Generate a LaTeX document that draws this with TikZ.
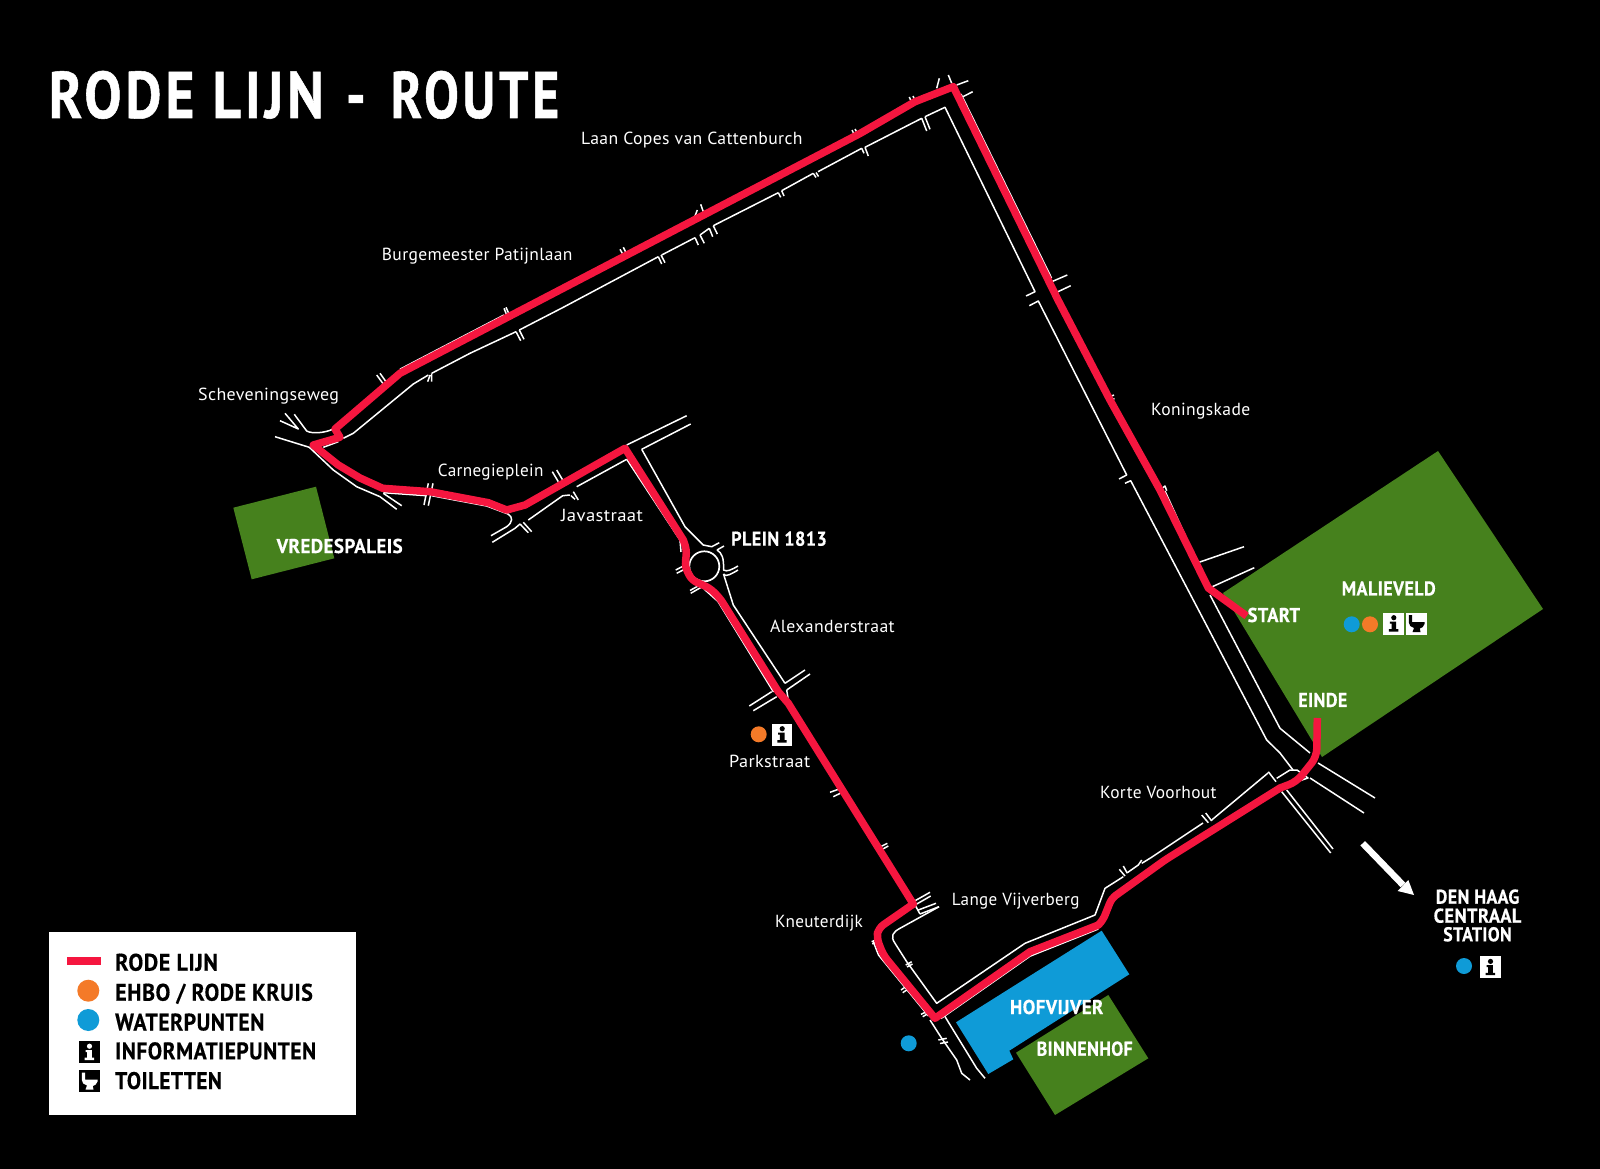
\documentclass[tikz,border=0pt]{standalone}
\usepackage{fontspec}
\usepackage{graphicx}
\setmainfont{PT Sans}
\newfontfamily\hfont[FakeStretch=0.88,LetterSpace=2,BoldFeatures={FakeBold=0.4}]{PT Sans}
\newfontfamily\tfont[FakeStretch=0.84,LetterSpace=6,BoldFeatures={FakeBold=0.8}]{PT Sans}
\newfontfamily\lfont[LetterSpace=2]{PT Sans}
\newcommand{\fw}[2]{\resizebox{#1pt}{\height}{#2}}
\definecolor{rd}{HTML}{F5163F}
\definecolor{gr}{HTML}{46811D}
\definecolor{bl}{HTML}{0F9BD7}
\definecolor{og}{HTML}{F47A28}
\tikzset{
 road/.style={draw=white,line width=1.5pt,line join=round},
 route/.style={draw=rd,line width=7.5pt,line join=round},
 thinlabel/.style={anchor=base west,inner sep=0pt,text=white,font=\fontsize{17.5}{20}\selectfont\lfont},
 mlabel/.style={anchor=center,inner sep=0pt,text=white,font=\fontsize{20}{22}\selectfont\hfont\bfseries},
 leglabel/.style={anchor=base west,inner sep=0pt,text=black,font=\fontsize{24}{26}\selectfont\hfont\bfseries},
}
\newcommand{\infobox}[4]{% x y bg fg (20.5 x 22)
 \begin{scope}[shift={(#1,#2)}]
 \fill[#3] (0,0) rectangle (20.5,22);
 \fill[#4] (10.5,5.2) circle (2.6);
 \fill[#4] (6.5,9) -- (12.8,9) -- (12.8,16.6) -- (15,16.6) -- (15,19) -- (5.6,19) -- (5.6,16.6) -- (8.2,16.6) -- (8.2,11) -- (6.5,11) -- cycle;
 \end{scope}}
\newcommand{\toiletbox}[4]{%
 \begin{scope}[shift={(#1,#2)}]
 \fill[#3] (0,0) rectangle (20.5,22);
 \fill[#4] (2.8,2.5) -- (6.2,2.5) -- (6.2,9.5) -- (18.5,9.5) -- (18.5,11.5) .. controls (18,14.5) and (15.5,15.5) .. (13.8,16) -- (14.5,19.5) -- (6.5,19.5) -- (8,15.5) .. controls (5,14.5) and (2.8,13) .. (2.8,10) -- cycle;
 \end{scope}}
\begin{document}
\begin{tikzpicture}[x=1pt,y=-1pt]
\useasboundingbox (0,0) rectangle (1600,1169);
\fill[black] (0,0) rectangle (1600,1169);
% areas
\fill[gr] (233.3,507.7) -- (316,486.7) -- (334.3,558.3) -- (251.7,579.3) -- cycle;
\fill[gr] (1438,451) -- (1543,609) -- (1322,757) -- (1223,593) -- cycle;
\fill[gr] (1108.3,995) -- (1148.3,1058.3) -- (1055,1115) -- (1016,1052.7) -- cycle;
\fill[bl] (1101.7,930.7) -- (1129.3,974.3) -- (1009.3,1050.7) -- (1013.3,1059.3) -- (988.3,1074) -- (956,1022.3) -- cycle;
% roads: Laan Copes / Burgemeester lower edge
\path[road] (343.3,438.3) -- (353.3,433.3) -- (413.3,384) -- (428.3,375);
\path[road] (431.7,373.3) -- (470,353.3) -- (516,331.7);
\path[road] (519.3,330) -- (563.3,307.3) -- (658.3,256.7);
\path[road] (661.7,255) -- (695,237.7);
\path[road] (700,235) -- (709.3,228.3);
\path[road] (713.3,225.7) -- (778.3,192.7);
\path[road] (781.7,190.7) -- (813.3,173.3);
\path[road] (818,171.7) -- (861.7,148.3);
\path[road] (865,147.3) -- (921.7,118.3);
\path[road] (925,116.7) -- (945,107.3) -- (1035,291.7) -- (1026,296);
\path[road] (1029.3,305.7) -- (1038.3,301) -- (1126.7,475) -- (1119,479);
\path[road] (1125,483.3) -- (1130.7,480.7) -- (1266.7,740) -- (1280,753) -- (1293,770);
% ticks
\path[road] (427.7,381.7) -- (430,375) (431.7,373.3) -- (431.7,381.7);
\path[road] (516,331.7) -- (520.7,340.7) (519.3,330) -- (524,339.3);
\path[road] (658.3,256.7) -- (661.7,264) (661,255) -- (665,262.7);
\path[road] (695,237.7) -- (698.3,245) (700,235) -- (704.3,243.3);
\path[road] (709.3,228.3) -- (712.7,236.7) (713.3,225.7) -- (717.3,234);
\path[road] (778.3,192.7) -- (780.7,197.3) (781.7,190.7) -- (784,196);
\path[road] (813.3,173.3) -- (816,177.5) (816,172.5) -- (818.5,176.5);
\path[road] (861.7,148.3) -- (864,153.3) (865,147.3) -- (868.3,156);
\path[road] (921.7,118.3) -- (926.7,131) (925,116.7) -- (930,129.3);
\path[road] (376.7,375) -- (384,385) (380,373.3) -- (386.7,382.7);
\path[road] (504,308.3) -- (506.7,315) (506,307.3) -- (509,314);
\path[road] (620,249.3) -- (623.3,255) (623.3,247.3) -- (626.7,254);
\path[road] (695,216) -- (697.3,210) (703.3,211.7) -- (700.7,204.3);
\path[road] (852,130) -- (854,134) (855,129) -- (857,132.5);
\path[road] (909.3,97) -- (911.5,102) (913,96) -- (915,100.5);
\path[road] (936.7,88.3) -- (939.3,78.3) (951.7,83.3) -- (948.3,75);
\path[road] (956.7,85) -- (968.3,80.7) (961.7,97.3) -- (972.7,91.7);
\path[road] (1051.7,281.7) -- (1067.3,275) (1056.7,292.3) -- (1070.7,285.7);
\path[road] (1107,398) -- (1114,395) (1109,401) -- (1114.5,398.5);
\path[road] (1160,490) -- (1165,486) -- (1166.7,490.7);
% along red
\path[road] (961,94) -- (1051.5,278);
\path[road] (1165,491) -- (1195,557);
\path[road] (400,369.2) -- (504,315);
\path[road] (1199,562.3) -- (1244,546.7);
\path[road] (1212.3,586.7) -- (1254.3,567.7);
% Koningskade lower
\path[road] (1210,595) -- (1280,728.3) -- (1310,753);
\path[road] (1318,763) -- (1375,798);
\path[road] (1310,778) -- (1364,813);
\path[road] (1276.7,778.3) -- (1290,770) -- (1297,770) -- (1308,778) -- (1286.7,785);
\path[road] (1150,858.3) -- (1203,823);
\path[road] (1211.7,820) -- (1268,773);
\path[road] (1201.7,815) -- (1208.3,822.7) (1205.7,813) -- (1211.7,821);
\path[road] (1268.3,771.7) -- (1276,781.7);
\path[road] (1281.7,791.7) -- (1330.7,853);
\path[road] (1286.7,790) -- (1333,849);
% Scheveningseweg
\path[road] (280,420.7) -- (298.3,429) -- (285,413.3);
\path[road] (294.3,414.3) -- (306.7,431) .. controls (312,434) and (325,433) .. (333.3,429);
\path[road] (275,436.7) -- (309.3,447.3) -- (333.3,470) -- (356.7,486.7) -- (380,496.7) -- (396.7,509.3);
\path[road] (323.3,447.3) -- (338.3,441.7);
\path[road] (383.3,493.3) -- (401.7,505.7);
\path[road] (383.3,492.7) -- (426.7,495.7);
\path[road] (428.3,483.3) -- (424,505) (433,483.3) -- (428.3,505.7);
\path[road] (431.7,495.7) -- (486.7,506) -- (508,514) .. controls (513,517) and (513,522) .. (506.7,526.7) -- (491,535.7);
\path[road] (492.3,542.3) -- (515,528.3) -- (520,524);
\path[road] (520,524) -- (528.3,532.7) (523.3,522.3) -- (531.7,531.7);
\path[road] (528.3,520) -- (562.7,495.7) -- (570,495);
\path[road] (571,495.7) -- (575,499.3) (573.3,491.7) -- (578.3,500);
\path[road] (576.7,486.7) -- (626.7,459.3);
\path[road] (552.3,471.7) -- (558.3,481.7) (556.7,470) -- (562.7,480);
\path[road] (626.7,445) -- (686.7,415.7);
\path[road] (641.7,449.3) -- (690.7,424);
\path[road] (641.7,449.3) -- (685,526.7) -- (703.3,545) -- (711.7,546.7) -- (719.3,542.7);
\path[road] (626.7,459.3) -- (680,540) -- (681,552);
% Plein 1813
\node[circle,draw=white,line width=1.7pt,minimum size=30pt,inner sep=0pt] (plein) at (704.3,566.3) {};
\path[road] (717,550) -- (724,546);
\path[road] (717,550) .. controls (722,553) and (724,558) .. (723.5,570) .. controls (727,572) and (731,570) .. (738,566);
\path[road] (723.5,574) .. controls (725,578) and (733,573) .. (738,570);
\path[road] (723.5,574) -- (733.3,605) -- (785,683.3);
\path[road] (785,683.3) -- (805,670) (786.7,690) -- (810,674);
\path[road] (786.7,690) -- (788.3,700);
\path[road] (675.7,570) -- (684,565.7) (676.7,573.3) -- (685,569);
\path[road] (690,590.5) -- (703.3,583) (690.7,593.3) -- (703.3,586);
\path[road] (704,589) -- (718,601.5) -- (773.5,692);
\path[road] (749.3,706) -- (771.7,691.7) (753.3,710.7) -- (776.7,696.7);
\path[road] (830,792.3) -- (841,788.3) (833.3,796.7) -- (842.3,792.3);
\path[road] (879.3,847.3) -- (887.3,843.3) (881,850) -- (888.3,846);
% Lange Vijverberg
\path[road] (913.3,901.7) -- (930,892.3) (915,905) -- (930.7,896);
\path[road] (918.3,910) -- (936,903.3) (920,914) -- (939,906.7);
\path[road] (915,905) -- (920,914);
\path[road] (939,906.7) -- (900,928.3) .. controls (893,932) and (890,936) .. (895,943.3) -- (906.7,961.7) -- (936.7,1003.3) -- (1025,943.3) -- (1095,915) -- (1105,888.3) -- (1123.3,876.7);
\path[road] (1119.3,869.3) -- (1125,876) (1123.3,866) -- (1127.3,873.3);
\path[road] (1127.3,872.7) -- (1138.3,865) -- (1141.7,860);
\path[road] (1141.7,863.3) -- (1150,858.3);
\path[road] (871.7,941.7) -- (876.7,939.3) (872.3,944) -- (876.7,941.7);
\path[road] (905.7,965) -- (911.7,961.7) (907,967) -- (912.5,964);
\path[road] (901,990) -- (906.7,986) (902.7,992.7) -- (907.7,989.3);
\path[road] (921,1014.3) -- (926.7,1011.7) (922.7,1016.7) -- (927.3,1014);
\path[road] (873,941) -- (878.5,955) -- (928.5,1016);
\path[road] (930,1020) -- (941.7,1038.3) -- (956.7,1060) -- (961.7,1073.3) -- (970,1080);
\path[road] (938.3,1040) -- (946.7,1038.3) (940,1043.5) -- (948,1042);
\path[road] (944,1015) -- (976.7,1068.3) -- (985,1078.3);
\path[road] (941,1018.5) -- (1030,956.2) -- (1098.3,929);
% red route
\path[route] (1246.7,616) -- (1208.3,588) -- (1160,490) -- (1110,400) -- (1058,300) -- (953.3,86.7) -- (915,101.7) -- (860,133.5) -- (400,373.3) -- (335,429) -- (340,437.3) -- (313.3,445) -- (338.3,465) -- (360,478) -- (382.7,488.3) -- (430,491.7) -- (488.3,502.7) -- (506.7,510) -- (525,505) -- (625,448.3) -- (683.3,540) [rounded corners=5pt] -- (686.7,550) -- (685,566.7) -- (691.7,580) -- (710,588.3) -- (720,598.3) [sharp corners] -- (778.3,691.7) -- (788.3,703.3) -- (913.3,904) [rounded corners=6pt] -- (878.3,928.3) -- (876.7,938) -- (883.3,955) [sharp corners] -- (935,1018.3) -- (1030,951.7) -- (1098.3,925) [rounded corners=5pt] -- (1103,920) -- (1111.7,898.3) -- (1165,860) [sharp corners] -- (1280,788) [rounded corners=8pt] -- (1296.7,781.7) -- (1316.7,756.7) [sharp corners] -- (1317.3,718);
% arrow
\coordinate (arrowfrom) at (1362.7,843.3);
\coordinate (arrowto) at (1403,885);
\draw[white,line width=6.5pt] (arrowfrom) -- (arrowto);
\fill[white] (1414,895) -- (1408.3,880) -- (1397.7,891) -- cycle;
% dots & icons
\fill[og] (758.7,734.3) circle (8);
\infobox{771.7}{723.5}{white}{black}
\fill[bl] (908.7,1043.3) circle (8);
\fill[bl] (1351.7,624.3) circle (8);
\fill[og] (1370,624.3) circle (8);
\infobox{1383.3}{612.5}{white}{black}
\toiletbox{1406}{612.5}{white}{black}
\fill[bl] (1464,966) circle (8);
\infobox{1480}{956.2}{white}{black}
% labels
\node[anchor=base west,inner sep=0pt,text=white,font=\fontsize{66}{70}\selectfont\tfont\bfseries] (title) at (48.6,118) {\fw{275}{RODE LIJN}\hspace{22pt}\fw{20}{-}\hspace{25pt}\fw{168.5}{ROUTE}};
\node[thinlabel] (l1) at (581,145) {\fw{221.3}{Laan Copes van Cattenburch}};
\node[thinlabel] (l2) at (381.7,260.7) {\fw{190.6}{Burgemeester Patijnlaan}};
\node[thinlabel] (l3) at (198,400.7) {\fw{140.8}{Scheveningseweg}};
\node[thinlabel] (l4) at (437.7,476) {\fw{105.6}{Carnegieplein}};
\node[thinlabel] (l5) at (561,521.7) {\fw{81.7}{Javastraat}};
\node[thinlabel] (l6) at (770,632.7) {\fw{124.5}{Alexanderstraat}};
\node[thinlabel] (l7) at (729,767.7) {\fw{81}{Parkstraat}};
\node[thinlabel] (l8) at (951.7,905) {\fw{127.6}{Lange Vijverberg}};
\node[thinlabel] (l9) at (775,927.3) {\fw{87.7}{Kneuterdijk}};
\node[thinlabel] (l10) at (1100,798.3) {\fw{116.3}{Korte Voorhout}};
\node[thinlabel] (l11) at (1151,415.7) {\fw{99}{Koningskade}};
\node[mlabel] (m1) at (339.7,546) {\fw{126}{VREDESPALEIS}};
\node[mlabel] (m2) at (779,538.7) {\fw{95.7}{PLEIN 1813}};
\node[mlabel] (m3) at (1056.7,1007) {\fw{93.3}{HOFVIJVER}};
\node[mlabel] (m4) at (1084.7,1048.7) {\fw{96}{BINNENHOF}};
\node[mlabel] (m5) at (1273.8,615) {\fw{52.3}{START}};
\node[mlabel] (m6) at (1388.7,588.5) {\fw{94}{MALIEVELD}};
\node[mlabel] (m7) at (1322.8,700) {\fw{49}{EINDE}};
\node[mlabel] (m8) at (1477.5,896.7) {\fw{83.6}{DEN HAAG}};
\node[mlabel] (m9) at (1477.5,915.7) {\fw{87.7}{CENTRAAL}};
\node[mlabel] (m10) at (1477.5,934.3) {\fw{68.4}{STATION}};
% legend
\fill[white] (49,932.3) rectangle (355.5,1115);
\fill[rd] (67.3,956.7) rectangle (101,965);
\fill[og] (88.3,990.7) circle (11);
\fill[bl] (88.3,1020) circle (11);
\infobox{79}{1041}{black}{white}
\toiletbox{79}{1070}{black}{white}
\node[leglabel] (k1) at (115,970.7) {\fw{102.7}{RODE LIJN}};
\node[leglabel] (k2) at (115,1000.7) {\fw{197.7}{EHBO / RODE KRUIS}};
\node[leglabel] (k3) at (115,1030.5) {\fw{149.3}{WATERPUNTEN}};
\node[leglabel] (k4) at (115,1059.3) {\fw{201}{INFORMATIEPUNTEN}};
\node[leglabel] (k5) at (115,1089) {\fw{106.7}{TOILETTEN}};
\end{tikzpicture}
\end{document}
